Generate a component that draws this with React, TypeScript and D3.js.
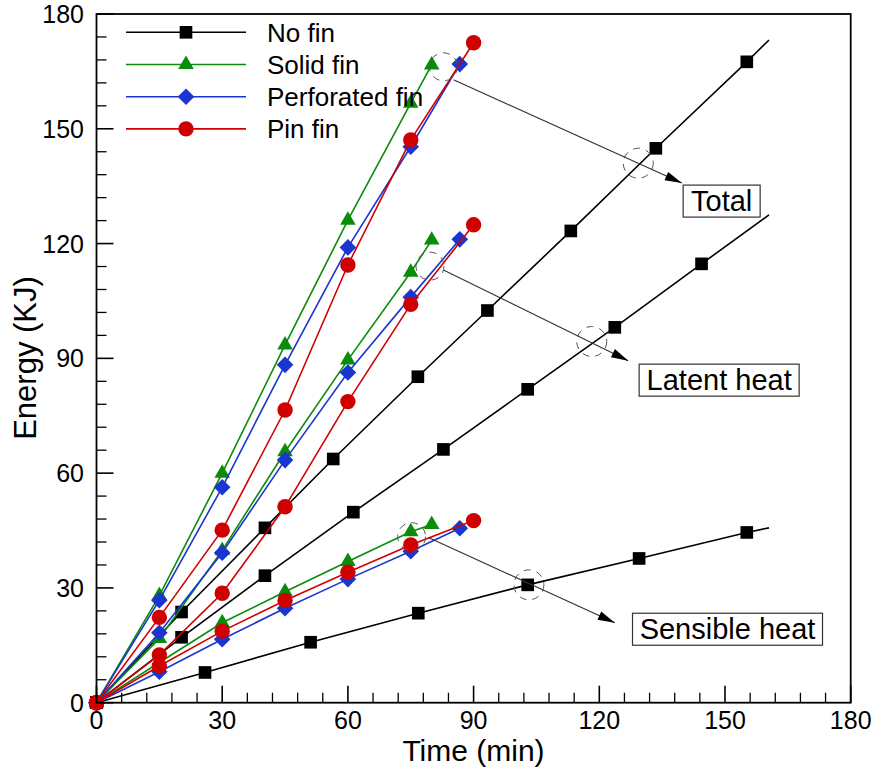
import React from "react";
import * as d3 from "d3";

// time (min) / energy (kJ)
const noFinTotalT = [0, 20.3, 40.2, 56.5, 76.7, 93.3, 113.2, 133.5, 155.2];
const noFinTotalE = [0, 23.7, 45.7, 63.7, 85.2, 102.5, 123.3, 144.9, 167.5];
const noFinLatentT = [0, 20.3, 40.2, 61.3, 82.8, 102.9, 123.7, 144.4];
const noFinLatentE = [0, 17.1, 33.2, 49.8, 66.2, 81.9, 98.1, 114.7];
const noFinSensibleT = [0, 25.9, 51.1, 76.8, 102.9, 129.5, 155.2];
const noFinSensibleE = [0, 7.9, 15.8, 23.4, 30.8, 37.7, 44.5];
// the no-fin lines run on past the last marker
const noFinLineEndT = 160.5;
const noFinLineEndE = [173.2, 127.5, 45.7];

const solidT = [0, 15, 30, 45, 60, 75, 80];
const solidTotal = [0, 28, 60.0, 93.5, 126.1, 156.7, 166.7];
const solidLatent = [0, 16.8, 39.8, 65.6, 89.6, 112.5, 120.9];
const solidSensible = [0, 10.5, 20.9, 29.0, 36.9, 44.7, 46.6];

const perfT = [0, 15, 30, 45, 60, 75, 86.7];
const perfTotal = [0, 26.8, 56.3, 88.3, 119.0, 145.3, 166.9];
const perfLatent = [0, 18.3, 39.2, 63.4, 86.3, 106.0, 121.1];
const perfSensible = [0, 8.1, 16.6, 24.7, 32.3, 39.6, 45.6];

const pinT = [0, 15, 30, 45, 60, 75, 90];
const pinTotal = [0, 22.3, 45.1, 76.5, 114.4, 147.1, 172.5];
const pinLatent = [0, 12.5, 28.6, 51.2, 78.7, 104.1, 124.9];
const pinSensible = [0, 9.6, 18.7, 26.7, 34.1, 41.2, 47.6];

const legendNames = ["No fin", "Solid fin", "Perforated fin", "Pin fin"];
const seriesColors = ["#000000", "#0a8c0a", "#1a35d0", "#d00000"];
const xTicks = [0, 30, 60, 90, 120, 150, 180];
const yTicks = [0, 30, 60, 90, 120, 150, 180];

// annotations: label, circle near fin ends, circle on no-fin line, arrow start, arrow tip, box centre
const annLabels = ["Total", "Latent heat", "Sensible heat"];
const annCircleA = [[82.8, 166.2], [79.6, 114.1], [75.2, 43.4]];
const annCircleB = [[129.3, 141.0], [118.2, 94.4], [103.2, 30.8]];
const annFrom = [[85.2, 162.8], [82.8, 113.1], [79.2, 43.2]];
const annTo = [[139.7, 135.8], [126.9, 89.4], [123.7, 20.9]];
const annBox = [[149.2, 131.1], [148.6, 84.3], [150.6, 19.2]];

const W = 878, H = 773;
const font = "'Liberation Sans', Arial, sans-serif";

const zip = (t: number[], e: number[]) => t.map((v, i) => [v, e[i]] as [number, number]);

export default function App() {
  const x = d3.scaleLinear().domain([0, 180]).range([96.5, 850.7]);
  const y = d3.scaleLinear().domain([0, 180]).range([702.7, 14]);

  const line = d3.line<[number, number]>().x(d => x(d[0])).y(d => y(d[1]));

  const markerPath = [
    d3.symbol().type(d3.symbolSquare).size(160)()!,
    d3.symbol().type(d3.symbolTriangle).size(105)()!,
    d3.symbol().type(d3.symbolSquare).size(138)()!,
    d3.symbol().type(d3.symbolCircle).size(186)()!,
  ];
  const markerRot = [0, 0, 45, 0];

  const noFin = [
    zip(noFinTotalT, noFinTotalE),
    zip(noFinLatentT, noFinLatentE),
    zip(noFinSensibleT, noFinSensibleE),
  ];
  const fins = [
    [zip(solidT, solidTotal), zip(solidT, solidLatent), zip(solidT, solidSensible)],
    [zip(perfT, perfTotal), zip(perfT, perfLatent), zip(perfT, perfSensible)],
    [zip(pinT, pinTotal), zip(pinT, pinLatent), zip(pinT, pinSensible)],
  ];
  const groups = [noFin, ...fins];

  const minorX = d3.range(0, 181, 6).filter(v => v % 30 !== 0);
  const minorY = d3.range(0, 181, 6).filter(v => v % 30 !== 0);

  const boxW = [77, 160, 190];
  const boxH = 32;

  const mark = (gi: number, px: number, py: number, key: string) => (
    <path
      key={key}
      d={markerPath[gi]}
      transform={`translate(${px},${py}) rotate(${markerRot[gi]})`}
      fill={seriesColors[gi]}
    />
  );

  return (
    <div style={{ position: "absolute", left: 0, top: 0 }}>
      <svg width={W} height={H} style={{ display: "block", background: "#fff" }} fontFamily={font}>
        {/* series */}
        {groups.map((g, gi) => (
          <g key={gi}>
            {g.map((pts, si) => (
              <path
                key={si}
                d={line(gi === 0 ? [...pts, [noFinLineEndT, noFinLineEndE[si]]] : pts)!}
                fill="none"
                stroke={seriesColors[gi]}
                strokeWidth={1.6}
              />
            ))}
            {g.map((pts, si) => pts.map((p, pi) => mark(gi, x(p[0]), y(p[1]), `${si}-${pi}`)))}
          </g>
        ))}

        {/* annotations */}
        {annLabels.map((lab, i) => {
          const x0 = x(annFrom[i][0]), y0 = y(annFrom[i][1]);
          const x1 = x(annTo[i][0]), y1 = y(annTo[i][1]);
          const ang = Math.atan2(y1 - y0, x1 - x0) * 180 / Math.PI;
          const cx = x(annBox[i][0]), cy = y(annBox[i][1]);
          return (
            <g key={lab}>
              <circle cx={x(annCircleA[i][0])} cy={y(annCircleA[i][1])} r={14} fill="none" stroke="#555" strokeWidth={1} strokeDasharray="7,6" />
              <circle cx={x(annCircleB[i][0])} cy={y(annCircleB[i][1])} r={15} fill="none" stroke="#555" strokeWidth={1} strokeDasharray="7,6" />
              <line x1={x0} y1={y0} x2={x1} y2={y1} stroke="#333" strokeWidth={1.1} />
              <path d="M0,0 L-17,-4.5 L-17,4.5 Z" transform={`translate(${x1},${y1}) rotate(${ang})`} fill="#000" />
              <rect x={cx - boxW[i] / 2} y={cy - boxH / 2} width={boxW[i]} height={boxH} fill="#fff" stroke="#333" strokeWidth={1.2} />
              <text x={cx} y={cy + 10} textAnchor="middle" fontSize={29} fill="#000">{lab}</text>
            </g>
          );
        })}

        {/* frame and ticks */}
        <rect x={x(0)} y={y(180)} width={x(180) - x(0)} height={y(0) - y(180)} fill="none" stroke="#000" strokeWidth={1.8} />
        {xTicks.map(t => (
          <g key={"xt" + t}>
            <line x1={x(t)} x2={x(t)} y1={y(0)} y2={y(0) - 17} stroke="#000" strokeWidth={1.6} />
            <text x={x(t)} y={729} textAnchor="middle" fontSize={25}>{t}</text>
          </g>
        ))}
        {minorX.map(t => (
          <line key={"xm" + t} x1={x(t)} x2={x(t)} y1={y(0)} y2={y(0) - 10} stroke="#000" strokeWidth={1.3} />
        ))}
        {yTicks.map(t => (
          <g key={"yt" + t}>
            <line x1={x(0)} x2={x(0) + 17} y1={y(t)} y2={y(t)} stroke="#000" strokeWidth={1.6} />
            <text x={84} y={y(t) + 9} textAnchor="end" fontSize={25}>{t}</text>
          </g>
        ))}
        {minorY.map(t => (
          <line key={"ym" + t} x1={x(0)} x2={x(0) + 10} y1={y(t)} y2={y(t)} stroke="#000" strokeWidth={1.3} />
        ))}

        {/* axis titles */}
        <text x={473.5} y={761} textAnchor="middle" fontSize={30}>Time (min)</text>
        <text transform="translate(36,358) rotate(-90)" textAnchor="middle" fontSize={31}>Energy (KJ)</text>

        {/* legend */}
        {legendNames.map((name, i) => {
          const ly = 32.3 + i * 32.2;
          return (
            <g key={name}>
              <line x1={126} x2={246} y1={ly} y2={ly} stroke={seriesColors[i]} strokeWidth={1.6} />
              {mark(i, 186, ly, "lg" + i)}
              <text x={267} y={ly + 9.5} fontSize={26}>{name}</text>
            </g>
          );
        })}
      </svg>
    </div>
  );
}
